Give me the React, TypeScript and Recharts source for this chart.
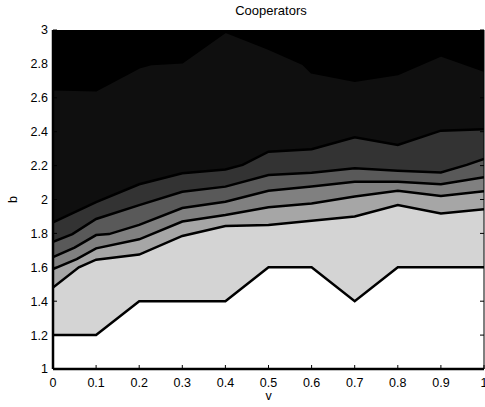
import React from 'react';
import { ComposedChart, Area, XAxis, YAxis } from 'recharts';

// axis ticks
const vTicks = [0, 0.1, 0.2, 0.3, 0.4, 0.5, 0.6, 0.7, 0.8, 0.9, 1];
const bTicks = [1, 1.2, 1.4, 1.6, 1.8, 2, 2.2, 2.4, 2.6, 2.8, 3];

// contour boundaries, [v, b] pairs, top to bottom
const ceiling = [[0, 3], [1, 3]];
const contour1 = [[0, 2.65], [0.1, 2.645], [0.2, 2.78], [0.23, 2.8], [0.3, 2.81], [0.4, 2.99], [0.5, 2.89], [0.58, 2.8], [0.6, 2.75], [0.7, 2.7], [0.8, 2.74], [0.9, 2.85], [1, 2.76]];
const contour2 = [[0, 1.865], [0.1, 1.985], [0.2, 2.09], [0.3, 2.155], [0.4, 2.177], [0.44, 2.204], [0.5, 2.282], [0.6, 2.296], [0.7, 2.367], [0.8, 2.322], [0.9, 2.406], [1, 2.415]];
const contour3 = [[0, 1.75], [0.045, 1.796], [0.1, 1.885], [0.2, 1.967], [0.3, 2.046], [0.4, 2.076], [0.5, 2.145], [0.6, 2.158], [0.7, 2.184], [0.8, 2.17], [0.9, 2.16], [0.96, 2.204], [1, 2.24]];
const contour4 = [[0, 1.66], [0.05, 1.716], [0.1, 1.79], [0.13, 1.796], [0.2, 1.85], [0.3, 1.95], [0.4, 1.987], [0.5, 2.052], [0.6, 2.076], [0.7, 2.105], [0.8, 2.105], [0.9, 2.09], [1, 2.132]];
const contour5 = [[0, 1.59], [0.055, 1.648], [0.1, 1.712], [0.2, 1.765], [0.3, 1.87], [0.4, 1.909], [0.5, 1.954], [0.6, 1.977], [0.7, 2.018], [0.8, 2.052], [0.9, 2.02], [1, 2.048]];
const contour6 = [[0, 1.48], [0.06, 1.6], [0.1, 1.645], [0.2, 1.675], [0.3, 1.785], [0.4, 1.844], [0.5, 1.85], [0.6, 1.875], [0.7, 1.9], [0.8, 1.968], [0.9, 1.918], [1, 1.943]];
const contour7 = [[0, 1.2], [0.1, 1.2], [0.2, 1.4], [0.4, 1.4], [0.5, 1.6], [0.6, 1.6], [0.7, 1.4], [0.8, 1.6], [1, 1.6]];

const contours = [ceiling, contour1, contour2, contour3, contour4, contour5, contour6, contour7];
const fills = ['#000000', '#0f0f0f', '#333333', '#595959', '#808080', '#a6a6a6', '#d4d4d4', '#ffffff'];

const toRows = (pts: number[][]) => pts.map(([v, b]) => ({ v, b }));

const FONT = '"Liberation Sans", Arial, Helvetica, sans-serif';

const XTick = (props: any) => {
  const { x, y, payload } = props;
  return (
    <g>
      <line x1={x} x2={x} y1={y - 9} y2={y - 13} stroke="#000" />
      <text x={x} y={y} dy="0.71em" textAnchor="middle" fontSize={12.5} fontFamily={FONT} fill="#000">
        {payload.value}
      </text>
    </g>
  );
};

const YTick = (props: any) => {
  const { x, y, payload } = props;
  return (
    <g>
      <line x1={x + 5} x2={x + 9} y1={y} y2={y} stroke="#000" />
      <text x={x} y={y} dy="0.355em" textAnchor="end" fontSize={12.5} fontFamily={FONT} fill="#000">
        {payload.value}
      </text>
    </g>
  );
};

const RightTick = (props: any) => {
  const { x, y } = props;
  return <line x1={x - 4} x2={x} y1={y} y2={y} stroke="#000" />;
};

export default function App() {
  return (
    <div style={{ position: 'absolute', left: 0, top: 0, width: 485, height: 407, background: '#fff' }}>
      <div
        style={{
          position: 'absolute',
          left: 53,
          width: 436,
          top: 3,
          textAlign: 'center',
          fontFamily: FONT,
          fontSize: 13,
          color: '#000',
        }}
      >
        Cooperators
      </div>
      <ComposedChart width={485} height={407} margin={{ top: 30, right: 0, bottom: 0, left: 0 }}>
        {contours.map((pts, i) => (
          <Area
            key={i}
            data={toRows(pts)}
            dataKey="b"
            type="linear"
            baseValue={1}
            stroke={i === 0 ? 'none' : '#000'}
            strokeWidth={2.5}
            fill={fills[i]}
            fillOpacity={1}
            dot={false}
            activeDot={false}
            isAnimationActive={false}
          />
        ))}
        <XAxis
          dataKey="v"
          type="number"
          domain={[0, 1]}
          ticks={vTicks}
          interval={0}
          height={38}
          tickLine={false}
          tickSize={6}
          tickMargin={3}
          axisLine={{ stroke: '#000', strokeWidth: 2.5 }}
          tick={<XTick />}
          allowDataOverflow
          label={{
            content: ({ viewBox }: any) => (
              <text x={viewBox.x + viewBox.width / 2} y={viewBox.y + 31} textAnchor="middle" fontSize={12.5} fontFamily={FONT} fill="#000">
                v
              </text>
            ),
          }}
        />
        <YAxis
          type="number"
          domain={[1, 3]}
          ticks={bTicks}
          interval={0}
          width={53}
          tickLine={false}
          tickSize={0}
          tickMargin={5}
          axisLine={{ stroke: '#000', strokeWidth: 2.5 }}
          tick={<YTick />}
          allowDataOverflow
          label={{
            content: ({ viewBox }: any) => {
              const cx = 17;
              const cy = viewBox.y + viewBox.height / 2;
              return (
                <text x={cx} y={cy} transform={`rotate(-90 ${cx} ${cy})`} textAnchor="middle" fontSize={12.5} fontFamily={FONT} fill="#000">
                  b
                </text>
              );
            },
          }}
        />
        <YAxis
          yAxisId="right"
          orientation="right"
          type="number"
          domain={[1, 3]}
          ticks={bTicks}
          interval={0}
          width={1}
          tickLine={false}
          tickSize={0}
          tickMargin={0}
          axisLine={{ stroke: '#000', strokeWidth: 1 }}
          tick={<RightTick />}
          allowDataOverflow
        />
      </ComposedChart>
    </div>
  );
}
